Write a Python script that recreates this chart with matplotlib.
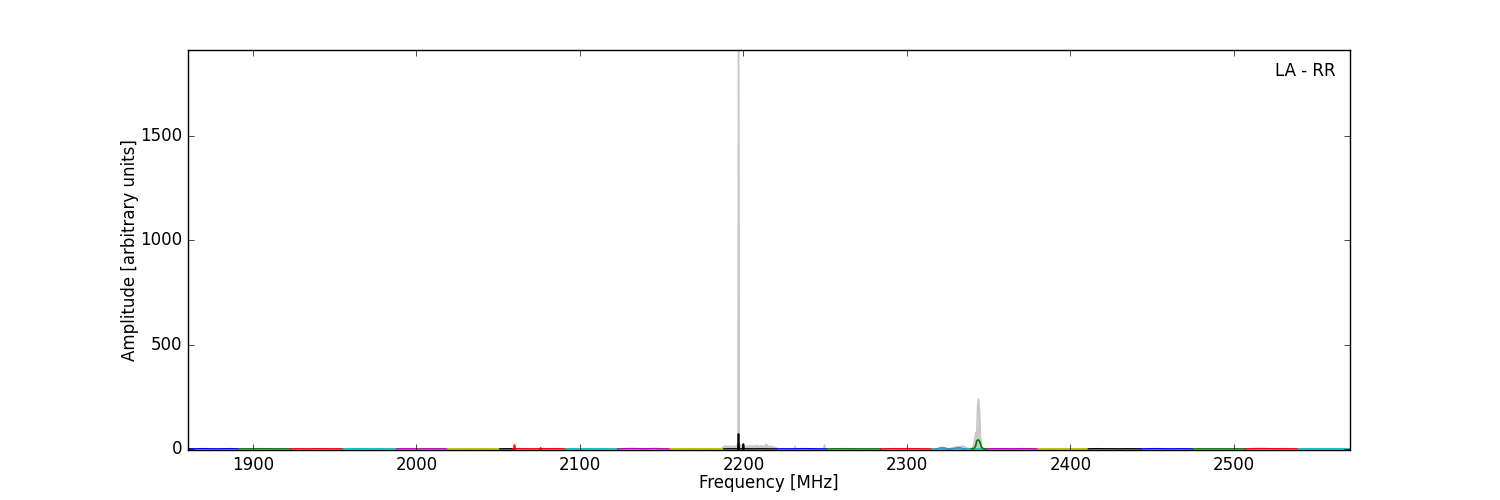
import numpy as np
import matplotlib
matplotlib.use('Agg')
import matplotlib.pyplot as plt

# sub-band baseline segments (MHz) and their colours
seg_start = [1860, 1891, 1923, 1955, 1988, 2019, 2051, 2059, 2091, 2123, 2155, 2188,
             2220, 2251, 2284, 2315, 2348, 2380, 2411, 2443, 2475, 2507, 2539]
seg_end = [1891, 1923, 1955, 1988, 2019, 2051, 2059, 2091, 2123, 2155, 2188, 2220,
           2251, 2284, 2315, 2348, 2380, 2411, 2443, 2475, 2507, 2539, 2571]
seg_color = ['b', 'g', 'r', 'c', 'm', 'y', 'k', 'r', 'c', 'm', 'y', 'k',
             'b', 'g', 'r', 'c', 'm', 'y', 'k', 'b', 'g', 'r', 'c']
seg_amp = [
	[1, 0.5, 1.5, 1, 0.5, 1, 1.5, 0.5],
	[0.5, 1, 1, 1.5, 1, 0.5, 1, 0.5],
	[0.5, 1, 0.5, 1, 1.5, 1, 0.5, 1],
	[0.5, 0.5, 1, 1, 0.5, 1, 0.5, 0.5],
	[0.5, 1, 1, 0.5, 1, 0.5, 1, 0.5],
	[0.5, 0.5, 1, 0.5, 1, 1, 0.5, 0.5],
	[0.5, 1, 0.5],
	[1, 1.5, 1, 0.5, 1.5, 1, 1.5, 0.5],
	[0.5, 1, 0.5, 1, 0.5, 1, 0.5, 0.5],
	[0.5, 1.5, 2, 1.5, 1, 2, 1, 0.5],
	[0.5, 1, 1.5, 1, 1.5, 1, 0.5, 0.5],
	[0.5, 1, 0.5, 1, 0.5, 1, 0.5, 0.5],
	[0.5, 1, 0.5, 1, 1.5, 1, 0.5, 0.5],
	[0.5, 1, 1.5, 1, 1, 0.5, 1, 0.5],
	[0.5, 1, 1.5, 1, 1.5, 1, 0.5, 0.5],
	[0.5, 1, 0.5, 1, 0.5, 1, 0.5, 0.5],
	[0.5, 1, 1.5, 1, 1, 1.5, 1, 0.5],
	[0.5, 1, 0.5, 1, 1.5, 1, 0.5, 0.5],
	[0.5, 1.5, 1, 1, 0.5, 1, 1, 0.5],
	[0.5, 1, 1.5, 1, 0.5, 1, 1, 0.5],
	[0.5, 1, 0.5, 1, 1, 0.5, 1, 0.5],
	[0.5, 1.5, 2, 1.5, 1, 1.5, 1, 0.5],
	[0.5, 1, 0.5, 1, 0.5, 1, 0.5, 0.5],
]

# narrow spikes on top of the sub-bands
spike_freq = [2060, 2076, 2197, 2200]
spike_amp = [19, 5, 72, 24]
spike_color = ['r', 'r', 'k', 'k']

# blue bumps and green line near 2340 MHz
bump_freq = [2318, 2320, 2321.5, 2323, 2324.5, 2327, 2329, 2331, 2332.5, 2334, 2336]
bump_amp = [0, 4, 6, 5, 0, 0, 3, 6, 6, 2, 0]
green_freq = [2339.5, 2341.0, 2342.0, 2342.7, 2343.3, 2344.0, 2344.8, 2345.6, 2346.6, 2348]
green_amp = [1, 2, 14, 38, 43, 42, 30, 8, 1, 1]

# total spectrum (grey)
gray_freq = [1860, 2186, 2188, 2189, 2190, 2191, 2192, 2193, 2194, 2195, 2196, 2196.6,
             2196.9, 2197.1, 2197.5, 2199, 2200, 2201, 2202, 2203, 2204, 2205, 2206, 2207,
             2208, 2209, 2210, 2211, 2212, 2213, 2214, 2215, 2216, 2217, 2218, 2219,
             2220, 2222, 2231, 2231.5, 2232, 2249, 2249.6, 2250.2, 2251, 2318, 2320,
             2322, 2324, 2326, 2328, 2330, 2332, 2334, 2336, 2338, 2339.5, 2340.5,
             2341.3, 2342.0, 2342.6, 2343.2, 2343.8, 2344.4, 2345.0, 2345.8, 2346.6,
             2348, 2571]
gray_amp = [0, 0, 12, 15, 11, 14, 13, 10, 15, 12, 14, 30,
            1950, 1950, 25, 13, 16, 11, 14, 12, 16, 13, 15, 12,
            17, 14, 13, 16, 12, 15, 22, 14, 12, 13, 10, 8,
            5, 0, 0, 14, 0, 0, 20, 0, 0, 0, 5,
            8, 4, 2, 6, 10, 12, 14, 8, 2, 1, 10,
            45, 78, 75, 210, 240, 190, 60, 12, 3,
            0, 0]

x_ticks = [1900, 2000, 2100, 2200, 2300, 2400, 2500]
y_ticks = [0, 500, 1000, 1500]

plt.style.use('classic')
fig = plt.figure(figsize=(15, 5), dpi=100, facecolor='white')
ax = fig.add_subplot(111)

ax.fill_between(gray_freq, 0, gray_amp, color='#c8c8c8', lw=0)
ax.plot(gray_freq, gray_amp, color='#c8c8c8', lw=1.0)

for f0, f1, c, amp in zip(seg_start, seg_end, seg_color, seg_amp):
	f = np.linspace(f0, f1, len(amp))
	ax.plot(f, amp, color=c, lw=1.0)

ax.plot(bump_freq, bump_amp, color='#4a82dc', lw=1.0)
ax.plot(green_freq, green_amp, color='g', lw=1.2)

for f, a, c in zip(spike_freq, spike_amp, spike_color):
	ax.plot([f - 0.4, f, f + 0.4], [0, a, 0], color=c, lw=1.2)

ax.set_xlim(1860, 2571)
ax.set_ylim(-5, 1912)
ax.set_xticks(x_ticks)
ax.set_yticks(y_ticks)
ax.set_xlabel('Frequency [MHz]', labelpad=0.5)
ax.set_ylabel('Amplitude [arbitrary units]', labelpad=0.5)
ax.text(0.988, 0.97, 'LA - RR', transform=ax.transAxes, ha='right', va='top')

fig.savefig('out.png', dpi=100, facecolor='white')
